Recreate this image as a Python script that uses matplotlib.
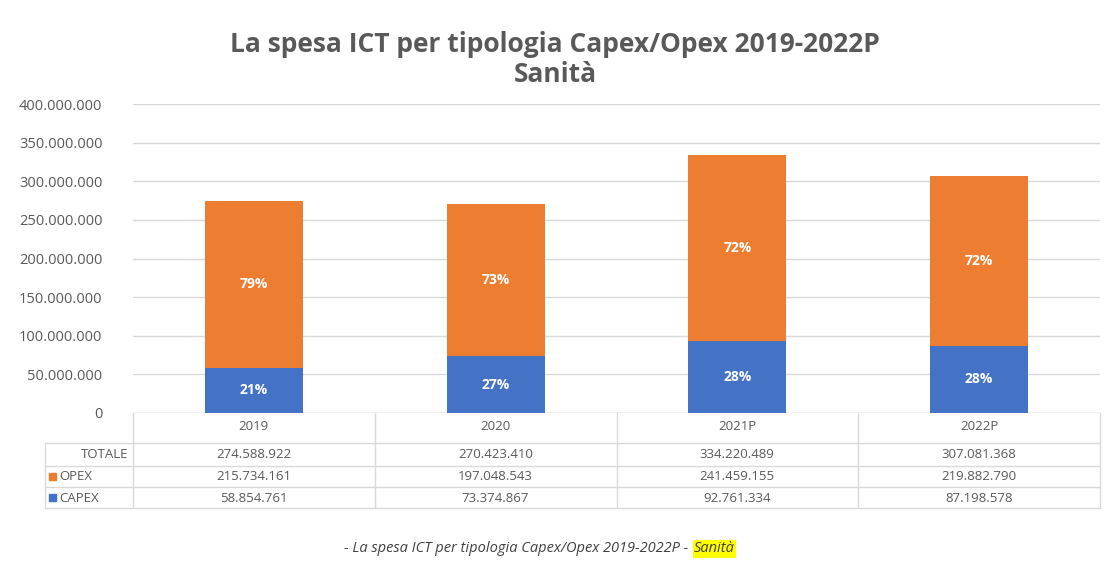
import matplotlib
matplotlib.use("Agg")
import matplotlib.pyplot as plt
import matplotlib.transforms as mtransforms
from matplotlib.lines import Line2D
from matplotlib.patches import Rectangle

# ICT spending, healthcare sector, Capex vs Opex
years = ["2019", "2020", "2021P", "2022P"]
totale = [274588922, 270423410, 334220489, 307081368]
opex = [215734161, 197048543, 241459155, 219882790]
capex = [58854761, 73374867, 92761334, 87198578]
opex_pct = ["79%", "73%", "72%", "72%"]
capex_pct = ["21%", "27%", "28%", "28%"]

ORANGE = "#ED7D31"
BLUE = "#4472C4"
GRID = "#D9D9D9"
TXT = "#595959"

plt.rcParams["font.family"] = ["Open Sans", "DejaVu Sans"]


def dotted(v):
    return "{:,}".format(int(v)).replace(",", ".")


fig = plt.figure(figsize=(11.11, 5.65), dpi=100)
W, H = 1111, 565


def fy(py):
    return 1 - py / H


ax = fig.add_axes([133 / W, fy(413), (1100 - 133) / W, (413 - 104) / H])

x = list(range(len(years)))
ax.bar(x, capex, width=0.405, color=BLUE, zorder=3)
ax.bar(x, opex, width=0.405, bottom=capex, color=ORANGE, zorder=3)

for i in x:
    ax.text(i, capex[i] / 2, capex_pct[i], ha="center", va="center",
            color="white", fontsize=10, fontweight="bold", zorder=4)
    ax.text(i, capex[i] + opex[i] / 2, opex_pct[i], ha="center", va="center",
            color="white", fontsize=10, fontweight="bold", zorder=4)

ax.set_xlim(-0.5, len(years) - 0.5)
ax.set_ylim(0, 400000000)
ax.set_yticks(range(0, 400000001, 50000000))
ax.set_yticklabels([dotted(v) for v in range(0, 400000001, 50000000)],
                   color=TXT, fontsize=10.5)
ax.set_xticks([])
ax.tick_params(axis="y", length=0, pad=22)
ax.grid(axis="y", color=GRID, linewidth=1, zorder=0)
for s in ax.spines.values():
    s.set_visible(False)
ax.axhline(0, color=GRID, linewidth=1, zorder=2)

# data table under the axis
trans = mtransforms.blended_transform_factory(ax.transData, fig.transFigure)
row_lines = [443, 466, 487, 508]
x_left = 45 / W
x_axis = 133 / W
x_right = 1100 / W

for py in row_lines:
    fig.add_artist(Line2D([x_left, x_right], [fy(py), fy(py)],
                          color=GRID, linewidth=1))
fig.add_artist(Line2D([x_left, x_left], [fy(443), fy(508)], color=GRID, linewidth=1))
fig.add_artist(Line2D([x_axis, x_axis], [fy(413), fy(508)], color=GRID, linewidth=1))
for b in [0.5, 1.5, 2.5, 3.5]:
    fig.add_artist(Line2D([b, b], [fy(413), fy(508)], color=GRID,
                          linewidth=1, transform=trans))

for i, yr in enumerate(years):
    fig.text(i, fy(427), yr, transform=trans, ha="center", va="center",
             color=TXT, fontsize=9.5)
    fig.text(i, fy(455), dotted(totale[i]), transform=trans, ha="center",
             va="center", color=TXT, fontsize=9.5)
    fig.text(i, fy(477), dotted(opex[i]), transform=trans, ha="center",
             va="center", color=TXT, fontsize=9.5)
    fig.text(i, fy(498), dotted(capex[i]), transform=trans, ha="center",
             va="center", color=TXT, fontsize=9.5)

fig.text(128 / W, fy(455), "TOTALE", ha="right", va="center", color=TXT, fontsize=9.5)
fig.text(59 / W, fy(477), "OPEX", ha="left", va="center", color=TXT, fontsize=9.5)
fig.text(59 / W, fy(498), "CAPEX", ha="left", va="center", color=TXT, fontsize=9.5)
fig.add_artist(Rectangle((49 / W, fy(480)), 7 / W, 7 / H, color=ORANGE))
fig.add_artist(Rectangle((49 / W, fy(501)), 7 / W, 7 / H, color=BLUE))

# title
fig.text(555 / W, fy(45), "La spesa ICT per tipologia Capex/Opex 2019-2022P",
         ha="center", va="center", color=TXT, fontsize=19, fontweight="bold")
fig.text(555 / W, fy(74), "Sanità", ha="center", va="center", color=TXT,
         fontsize=19, fontweight="bold")

# caption with highlighted sector name
fig.text(692 / W, fy(549), "- La spesa ICT per tipologia Capex/Opex 2019-2022P - ",
         ha="right", va="center", color="#404040", fontsize=10.5, style="italic")
fig.text(694 / W, fy(549), "Sanità", ha="left", va="center", color="#404040",
         fontsize=10.5, style="italic",
         bbox=dict(boxstyle="square,pad=0.1", facecolor="#FFFF00", edgecolor="none"))

fig.savefig("out.png", dpi=100, facecolor="white")
